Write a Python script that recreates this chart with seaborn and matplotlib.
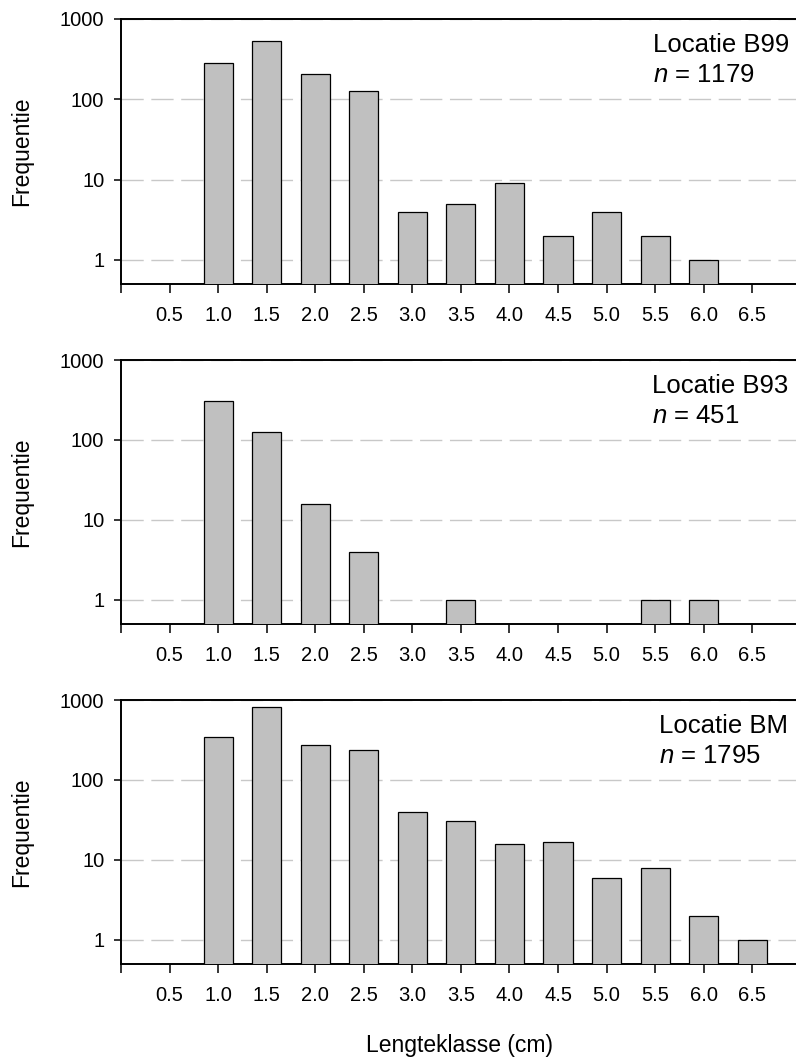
import numpy as np
import pandas as pd
import matplotlib
matplotlib.use("Agg")
import matplotlib.pyplot as plt
import seaborn as sns
from matplotlib.ticker import NullLocator

# lengteklassen (cm) en frequenties per locatie (NaN = geen waarneming)
klassen = ["0.5", "1.0", "1.5", "2.0", "2.5", "3.0", "3.5",
           "4.0", "4.5", "5.0", "5.5", "6.0", "6.5"]
freq_b99 = [np.nan, 283, 533, 208, 128, 4, 5, 9, 2, 4, 2, 1, np.nan]
freq_b93 = [np.nan, 303, 125, 16, 4, np.nan, 1, np.nan, np.nan, np.nan, 1, 1, np.nan]
freq_bm = [np.nan, 341, 825, 273, 235, 40, 31, 16, 17, 6, 8, 2, 1]

locaties = ["Locatie B99", "Locatie B93", "Locatie BM"]
aantallen = [1179, 451, 1795]
y_ticks = [1, 10, 100, 1000]

sns.set_theme(style="ticks")
plt.rcParams["font.family"] = ["Liberation Sans", "DejaVu Sans"]
plt.rcParams["mathtext.fontset"] = "custom"
plt.rcParams["mathtext.rm"] = "Liberation Sans"
plt.rcParams["mathtext.it"] = "Liberation Sans:italic"
for key in ["text.color", "axes.labelcolor", "xtick.color", "ytick.color", "axes.edgecolor"]:
    plt.rcParams[key] = "black"

W, H = 796, 1057
fig = plt.figure(figsize=(W / 100, H / 100), dpi=100)

# axes boxes in pixels: (top, bottom)
boxes = [(19, 284), (360, 624), (700, 964)]
left_px = 121
text_x = [0.788, 0.787, 0.797]

for i, (freqs, loc, n) in enumerate(zip([freq_b99, freq_b93, freq_bm], locaties, aantallen)):
    top, bot = boxes[i]
    ax = fig.add_axes([left_px / W, 1 - bot / H, (W - left_px) / W, (bot - top) / H])
    df = pd.DataFrame({"klasse": klassen, "freq": freqs})
    sns.barplot(data=df, x="klasse", y="freq", order=klassen, color="#c0c0c0",
                saturation=1, edgecolor="black", linewidth=0.9, width=0.6,
                ax=ax, zorder=3)
    ax.set_yscale("log")
    ax.set_ylim(0.5, 1000)
    ax.set_xlim(-1, 12.9)
    ax.set_yticks(y_ticks)
    ax.set_yticklabels([str(t) for t in y_ticks])
    ax.yaxis.set_minor_locator(NullLocator())
    ax.set_xticks(range(-1, 13))
    ax.set_xticklabels([""] + klassen)
    ax.tick_params(axis="x", length=6.5, width=1.1, pad=9, labelsize=14.5)
    ax.tick_params(axis="y", length=5, width=1.1, pad=7, labelsize=14.5)
    ax.set_axisbelow(True)
    ax.yaxis.grid(True, color="#c8c8c8", linestyle=(0, (16, 5.5)), linewidth=1.0, zorder=0)
    ax.xaxis.grid(False)
    for side in ["left", "bottom", "top"]:
        ax.spines[side].set_linewidth(1.4)
        ax.spines[side].set_visible(True)
    ax.spines["right"].set_visible(False)
    ax.set_xlabel("")
    ax.set_ylabel("Frequentie", fontsize=16.5)
    ax.yaxis.set_label_coords(-0.13, 0.5)

    h = bot - top
    ax.text(text_x[i], 1 - 33 / h, loc, transform=ax.transAxes, fontsize=18.5,
            ha="left", va="baseline")
    ax.text(text_x[i], 1 - 63 / h, f"$n$ = {n}", transform=ax.transAxes,
            fontsize=18.5, ha="left", va="baseline")

fig.text(460 / W, 1 - 1052 / H, "Lengteklasse (cm)", fontsize=16.5,
         ha="center", va="baseline")

fig.savefig("out.png", dpi=100)
